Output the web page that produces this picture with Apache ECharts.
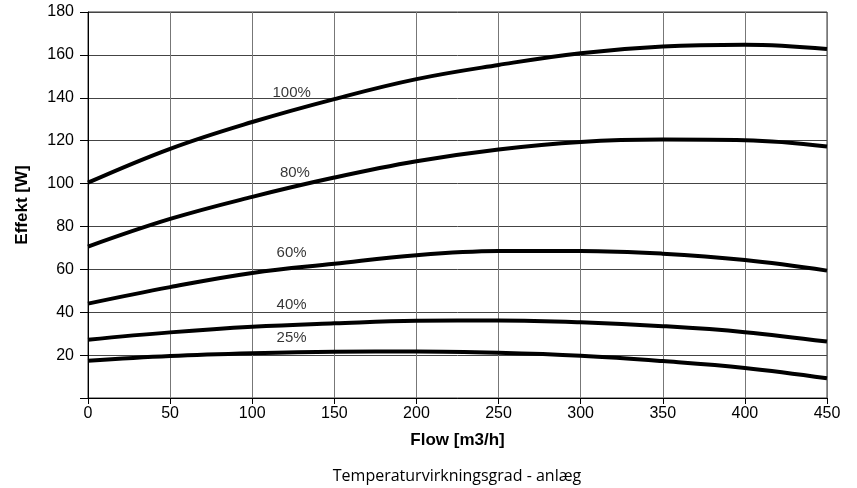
<!DOCTYPE html>
<html>
<head>
<meta charset="utf-8">
<script src="https://cdn.jsdelivr.net/npm/echarts@6/dist/echarts.min.js"></script>
<style>
  html, body { margin: 0; padding: 0; background: #fff; }
  #main { width: 857px; height: 488px; }
</style>
</head>
<body>
<div id="main"></div>
<script>
// flow values (m3/h)
var flow = [0, 50, 100, 150, 200, 250, 300, 350, 400, 450];
// effekt [W] per curve
var eff100 = [100.4, 116.2, 128.7, 139.4, 148.7, 155.3, 160.8, 163.9, 164.7, 162.7];
var eff80 = [70.6, 83.5, 93.8, 102.8, 110.4, 115.9, 119.4, 120.5, 120.2, 117.3];
var eff60 = [44.0, 51.7, 58.3, 62.6, 66.6, 68.5, 68.6, 67.3, 64.3, 59.4];
var eff40 = [27.2, 30.6, 33.2, 34.8, 36.0, 36.1, 35.3, 33.5, 30.7, 26.3];
var eff25 = [17.4, 19.6, 20.9, 21.6, 21.7, 21.1, 19.7, 17.2, 14.0, 9.2];

var curveNames = ['100%', '80%', '60%', '40%', '25%'];
// where the curve names sit (flow, effekt)
var labelX = [124, 126, 124, 124, 124];
var labelY = [142.5, 105, 67.5, 43.5, 28];

var yTicks = [0, 20, 40, 60, 80, 100, 120, 140, 160, 180];

var chartDom = document.getElementById('main');
var myChart = echarts.init(chartDom);

function curve(name, values) {
  return {
    name: name,
    type: 'line',
    smooth: 0.4,
    symbol: 'none',
    lineStyle: { color: '#000', width: 4 },
    data: flow.map(function (f, i) { return [f, values[i]]; }),
    animation: false
  };
}

var option = {
  textStyle: { fontFamily: 'Liberation Sans, Arial, sans-serif' },
  grid: {
    left: 88,
    right: 30,
    top: 12,
    bottom: 90,
    show: true,
    borderColor: '#333',
    borderWidth: 1
  },
  xAxis: {
    type: 'value',
    min: 0,
    max: 450,
    interval: 50,
    name: 'Flow [m3/h]',
    nameLocation: 'middle',
    nameGap: 34,
    nameTextStyle: { fontSize: 17, fontWeight: 'bold', color: '#000' },
    axisLine: { show: true, lineStyle: { color: '#000', width: 1 } },
    axisTick: { show: true, length: 6, lineStyle: { color: '#000' } },
    axisLabel: { fontSize: 16, color: '#000', margin: 8 },
    splitLine: { show: true, lineStyle: { color: '#777', width: 1 } }
  },
  yAxis: {
    type: 'value',
    min: yTicks[0],
    max: yTicks[yTicks.length - 1],
    interval: 20,
    name: 'Effekt [W]',
    nameLocation: 'middle',
    nameGap: 57,
    nameTextStyle: { fontSize: 17, fontWeight: 'bold', color: '#000' },
    axisLine: { show: true, lineStyle: { color: '#000', width: 1 } },
    axisTick: { show: true, length: 8, lineStyle: { color: '#000' } },
    axisLabel: {
      fontSize: 16,
      color: '#000',
      margin: 14,
      formatter: function (v) { return v === 0 ? '' : String(v); }
    },
    splitLine: { show: true, lineStyle: { color: '#444', width: 1 } }
  },
  series: [
    curve('100%', eff100),
    curve('80%', eff80),
    curve('60%', eff60),
    curve('40%', eff40),
    curve('25%', eff25),
    {
      type: 'scatter',
      symbolSize: 0,
      silent: true,
      animation: false,
      data: curveNames.map(function (n, i) { return { value: [labelX[i], labelY[i]], name: n }; }),
      label: {
        show: true,
        position: 'inside',
        formatter: '{b}',
        fontSize: 15,
        color: '#000'
      }
    }
  ],
  graphic: [{
    type: 'text',
    x: 457,
    y: 476,
    style: {
      text: 'Temperaturvirkningsgrad - anlæg',
      fontFamily: 'Open Sans, Noto Sans, sans-serif',
      fontSize: 16,
      fill: '#000',
      align: 'center',
      verticalAlign: 'middle'
    }
  }]
};

myChart.setOption(option);
</script>
</body>
</html>
